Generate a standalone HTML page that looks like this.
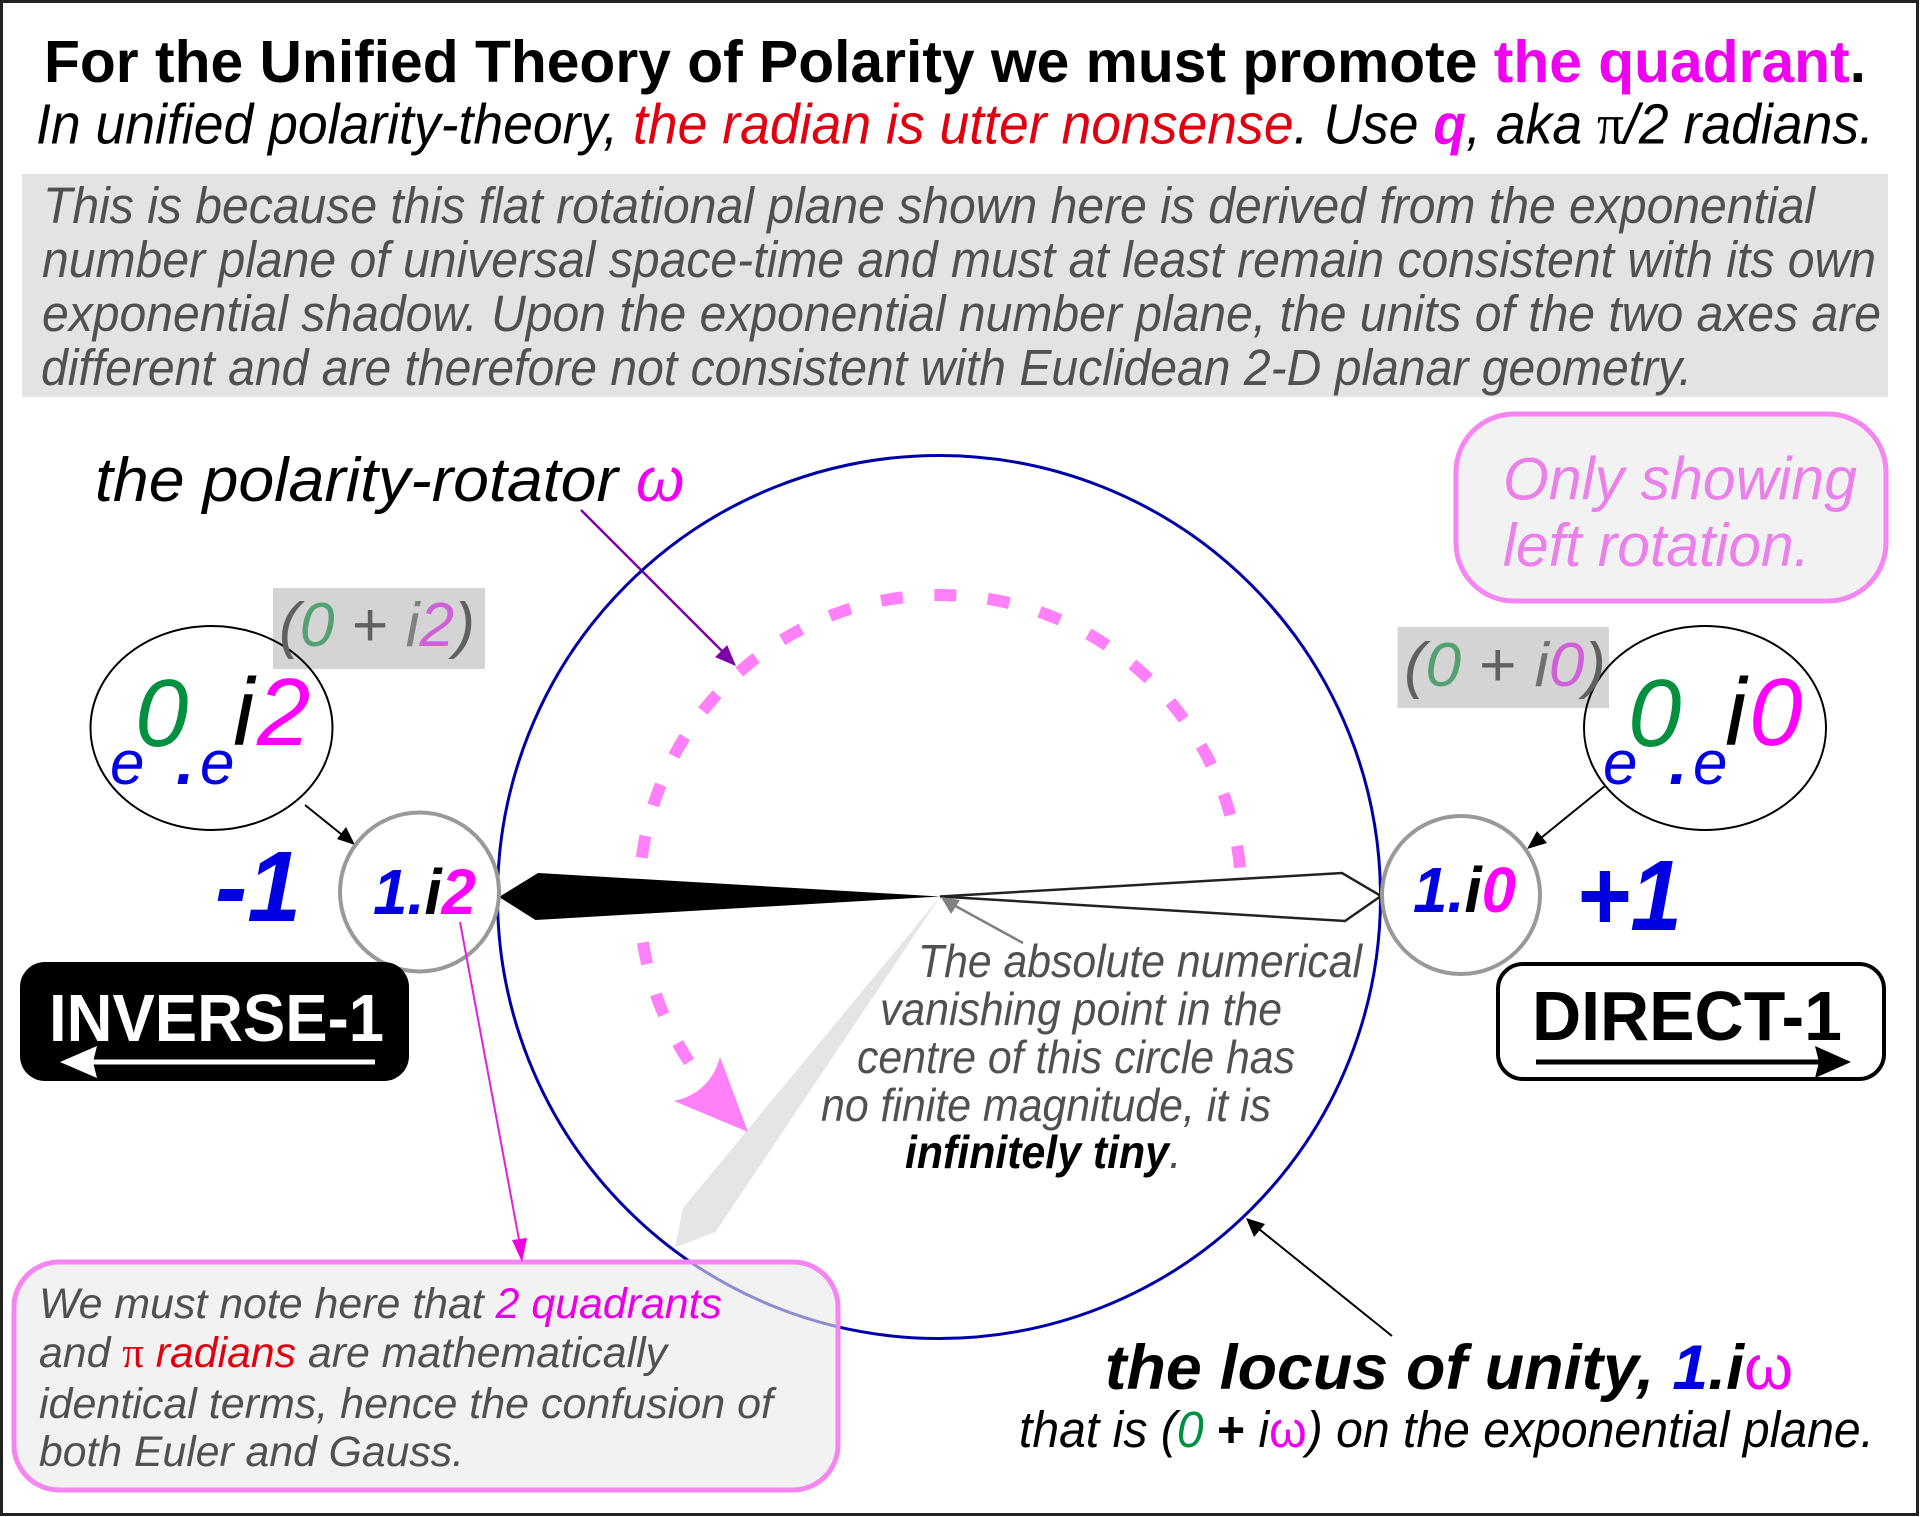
<!DOCTYPE html>
<html><head><meta charset="utf-8"><style>
html,body{margin:0;padding:0;background:#fff}
svg{display:block}
text{font-family:"Liberation Sans",sans-serif;white-space:pre}
.i{font-style:italic}.b{font-weight:bold}
.g{fill:#505050;font-style:italic}
.p{font-family:"Liberation Serif",serif;font-style:normal}
</style></head><body>
<svg width="1920" height="1517" viewBox="0 0 1920 1517" xmlns="http://www.w3.org/2000/svg">
<rect x="0" y="0" width="1920" height="1517" fill="#fff"/>
<rect x="1.5" y="1.5" width="1916" height="1513" fill="none" stroke="#222" stroke-width="3"/>

<text x="44" y="82" class="b" font-size="59" textLength="1822" lengthAdjust="spacingAndGlyphs">For the Unified Theory of Polarity we must promote <tspan fill="#f000f0">the quadrant</tspan>.</text>
<text x="36" y="143.5" class="i" font-size="57" textLength="1838" lengthAdjust="spacingAndGlyphs">In unified polarity-theory, <tspan fill="#e00010">the radian is utter nonsense</tspan>. Use <tspan fill="#f000f0" font-weight="bold">q</tspan>, aka <tspan class="p">π</tspan>/2 radians.</text>

<rect x="22" y="174" width="1866" height="223" fill="#e3e3e3"/>
<text x="43" y="223" class="g" font-size="51" textLength="1772" lengthAdjust="spacingAndGlyphs">This is because this flat rotational plane shown here is derived from the exponential</text>
<text x="42" y="277" class="g" font-size="51" textLength="1834" lengthAdjust="spacingAndGlyphs">number plane of universal space-time and must at least remain consistent with its own</text>
<text x="42" y="331" class="g" font-size="51" textLength="1839" lengthAdjust="spacingAndGlyphs">exponential shadow. Upon the exponential number plane, the units of the two axes are</text>
<text x="41" y="385" class="g" font-size="51" textLength="1651" lengthAdjust="spacingAndGlyphs">different and are therefore not consistent with Euclidean 2-D planar geometry.</text>

<!-- polarity rotator -->
<text x="95" y="501" class="i" font-size="62" textLength="523" lengthAdjust="spacingAndGlyphs">the polarity-rotator</text>
<text x="636" y="501" class="i" font-size="62" fill="#f000f0">ω</text>
<line x1="581" y1="510" x2="728" y2="657" stroke="#8000a8" stroke-width="2.5"/>
<polygon points="735,665 716,657 727,646" fill="#8000a8" stroke="#8000a8" stroke-width="1"/>

<!-- gray wedge -->
<polygon points="940,897 715.5,1232 675,1247.5 683,1208" fill="#e5e5e5"/>

<!-- circle -->
<circle cx="939" cy="897" r="441.5" fill="none" stroke="#0000a8" stroke-width="3"/>

<!-- dashed arc -->
<path d="M1240 867.6 A301 301 0 1 0 690.3 1063.6" fill="none" stroke="#ff80f8" stroke-width="12" stroke-dasharray="22 31.53"/>
<path d="M748 1132 L674 1101 Q710 1093 720 1057 Z" fill="#ff80f8"/>

<!-- wedges -->
<polygon points="499,897 538,873 940,896.5 535.5,920" fill="#000"/>
<polygon points="1381,896 1342,873 940,896.5 1345,921" fill="#fff" stroke="#222" stroke-width="2.5" stroke-linejoin="miter"/>

<!-- gray arrow + center text -->
<line x1="1023" y1="943" x2="950" y2="903" stroke="#808080" stroke-width="2.5"/>
<polygon points="941,897 960,900 951,914" fill="#808080"/>
<text x="918" y="977" class="g" font-size="46" textLength="444" lengthAdjust="spacingAndGlyphs">The absolute numerical</text>
<text x="880" y="1025" class="g" font-size="46" textLength="402" lengthAdjust="spacingAndGlyphs">vanishing point in the</text>
<text x="857" y="1073" class="g" font-size="46" textLength="438" lengthAdjust="spacingAndGlyphs">centre of this circle has</text>
<text x="821" y="1121" class="g" font-size="46" textLength="450" lengthAdjust="spacingAndGlyphs">no finite magnitude, it is</text>
<text x="905" y="1168" class="i b" font-size="46" textLength="264" lengthAdjust="spacingAndGlyphs">infinitely tiny</text>
<text x="1169" y="1168" class="g" font-size="46">.</text>

<!-- left group -->
<rect x="273" y="588" width="212" height="81" fill="#d4d4d4"/>
<ellipse cx="211.5" cy="728" rx="121" ry="102" fill="none" stroke="#000" stroke-width="2"/>
<text x="279" y="646" class="i" font-size="62" fill="#606060" textLength="196" lengthAdjust="spacingAndGlyphs">(<tspan fill="#55a070">0</tspan> <tspan font-style="normal">+</tspan> <tspan fill="#808080">i</tspan><tspan fill="#d060d8">2</tspan>)</text>
<text x="135" y="746" class="i" font-size="96" fill="#009040">0</text>
<text x="110" y="784" class="i" font-size="62" fill="#0000e0">e</text>
<text x="176" y="784" class="i b" font-size="66" fill="#0000e0">.</text>
<text x="200" y="784" class="i" font-size="62" fill="#0000e0">e</text>
<text x="233" y="745" class="i" font-size="96">i</text>
<text x="257" y="745" class="i" font-size="96" fill="#ff00ff">2</text>
<line x1="305" y1="805" x2="346" y2="838" stroke="#000" stroke-width="2"/>
<polygon points="355,845 337,839 346,827" fill="#000"/>

<circle cx="419.5" cy="892" r="79.5" fill="#fff" stroke="#999" stroke-width="4"/>
<text x="373" y="914" class="i b" font-size="64" fill="#0000e0" textLength="103" lengthAdjust="spacingAndGlyphs">1.<tspan fill="#000" font-weight="bold">i</tspan><tspan fill="#ff00ff">2</tspan></text>
<text x="215" y="921" class="i b" font-size="100" fill="#0000e0" textLength="86" lengthAdjust="spacingAndGlyphs">-1</text>

<rect x="20" y="962" width="389" height="119" rx="25" fill="#000"/>
<text x="49" y="1041" class="b" font-size="67" fill="#fff" textLength="335" lengthAdjust="spacingAndGlyphs">INVERSE-1</text>
<line x1="375" y1="1062" x2="93" y2="1062" stroke="#fff" stroke-width="5"/>
<polygon points="60,1062 97,1046 93,1062 97,1078" fill="#fff"/>

<!-- note box -->
<rect x="14" y="1262" width="824" height="228" rx="45" fill="#e9e9e9" fill-opacity=".6" stroke="#f585f0" stroke-width="5"/>
<line x1="460" y1="922" x2="520" y2="1245" stroke="#e020e0" stroke-width="2"/>
<polygon points="522,1262 512,1240 527,1238" fill="#f000e0"/>
<text x="39" y="1318" class="g" font-size="43" textLength="683" lengthAdjust="spacingAndGlyphs">We must note here that <tspan fill="#e800e8">2 quadrants</tspan></text>
<text x="39" y="1367" class="g" font-size="43" textLength="628" lengthAdjust="spacingAndGlyphs">and <tspan fill="#e00010"><tspan class="p">π</tspan> radians</tspan> are mathematically</text>
<text x="39" y="1418" class="g" font-size="43" textLength="734" lengthAdjust="spacingAndGlyphs">identical terms, hence the confusion of</text>
<text x="39" y="1466" class="g" font-size="43" textLength="425" lengthAdjust="spacingAndGlyphs">both Euler and Gauss.</text>

<!-- only showing -->
<rect x="1456" y="414" width="430" height="187" rx="58" fill="#f2f2f2" stroke="#f585f0" stroke-width="5"/>
<text x="1503" y="499.5" class="i" font-size="60" fill="#ea80ea" textLength="354" lengthAdjust="spacingAndGlyphs">Only showing</text>
<text x="1503" y="566" class="i" font-size="60" fill="#ea80ea" textLength="307" lengthAdjust="spacingAndGlyphs">left rotation.</text>

<!-- right group -->
<rect x="1397.5" y="627" width="211.5" height="81" fill="#d4d4d4"/>
<ellipse cx="1705" cy="728" rx="121" ry="102" fill="none" stroke="#000" stroke-width="2"/>
<text x="1404" y="686" class="i" font-size="62" fill="#606060" textLength="202" lengthAdjust="spacingAndGlyphs">(<tspan fill="#55a070">0</tspan> <tspan font-style="normal">+</tspan> <tspan fill="#707070">i</tspan><tspan fill="#d060d8">0</tspan>)</text>
<text x="1628" y="746" class="i" font-size="96" fill="#009040">0</text>
<text x="1603" y="784" class="i" font-size="62" fill="#0000e0">e</text>
<text x="1669" y="784" class="i b" font-size="66" fill="#0000e0">.</text>
<text x="1693" y="784" class="i" font-size="62" fill="#0000e0">e</text>
<text x="1725" y="745" class="i" font-size="96">i</text>
<text x="1749" y="745" class="i" font-size="96" fill="#ff00ff">0</text>
<line x1="1605" y1="786" x2="1536" y2="842" stroke="#000" stroke-width="2"/>
<polygon points="1527,849 1537,831 1547,843" fill="#000"/>

<circle cx="1461" cy="895" r="79" fill="#fff" stroke="#999" stroke-width="4"/>
<text x="1413" y="912" class="i b" font-size="64" fill="#0000e0" textLength="103" lengthAdjust="spacingAndGlyphs">1.<tspan fill="#000">i</tspan><tspan fill="#ff00ff">0</tspan></text>
<text x="1576" y="930" class="i b" font-size="100" fill="#0000e0" textLength="106" lengthAdjust="spacingAndGlyphs">+1</text>

<rect x="1498" y="964" width="386" height="115" rx="25" fill="#fff" stroke="#000" stroke-width="4"/>
<text x="1532" y="1040" class="b" font-size="70" textLength="310" lengthAdjust="spacingAndGlyphs">DIRECT-1</text>
<line x1="1536" y1="1062" x2="1820" y2="1062" stroke="#000" stroke-width="5"/>
<polygon points="1851,1062 1815,1046 1819,1062 1815,1078" fill="#000"/>

<!-- locus -->
<line x1="1392" y1="1336" x2="1254" y2="1225" stroke="#000" stroke-width="2"/>
<polygon points="1246,1218 1265,1224 1254,1237" fill="#000"/>
<text x="1105" y="1389" class="i b" font-size="63" textLength="639" lengthAdjust="spacingAndGlyphs">the locus of unity, <tspan fill="#0000e0">1</tspan>.i</text>
<text x="1744" y="1389" font-size="63" fill="#f000f0">ω</text>
<text x="1019" y="1447" class="i" font-size="51" textLength="855" lengthAdjust="spacingAndGlyphs">that is (<tspan fill="#009040">0</tspan> <tspan font-style="normal" font-weight="bold">+</tspan> i<tspan fill="#f000f0" font-style="normal">ω</tspan>) on the exponential plane.</text>
</svg>
</body></html>
